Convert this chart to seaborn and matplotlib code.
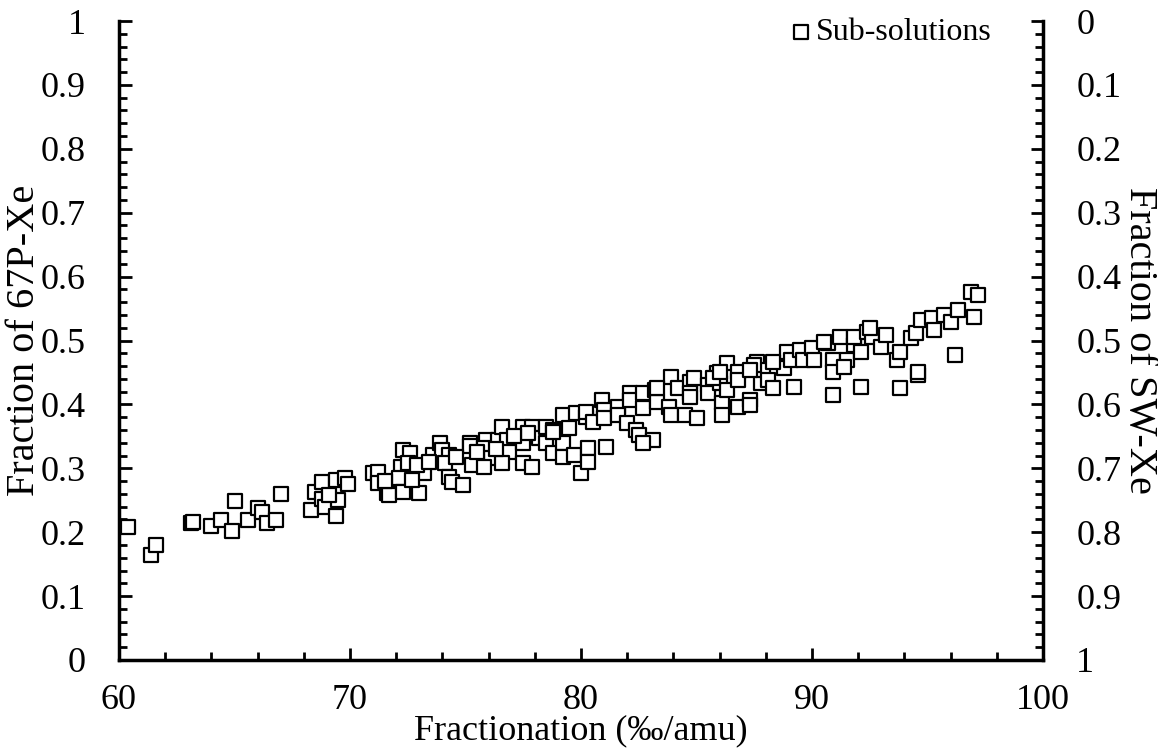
import numpy as np
import pandas as pd
import seaborn as sns
import matplotlib.pyplot as plt
from matplotlib.ticker import MultipleLocator, FuncFormatter

# Fractionation (permil/amu) of each sub-solution and its 67P-Xe fraction
fractionation = [
    60.4, 61.4, 61.6, 63.1, 63.2, 64.0, 64.4, 65.0, 64.9, 65.6, 66.0, 66.2, 66.4,
    66.8, 67.0, 68.3, 68.5, 68.8, 68.8, 68.9, 69.4, 69.8, 69.9, 69.5, 69.4, 69.1,
    71.0, 71.2, 71.2, 71.6, 71.7, 72.3, 72.6, 72.2, 72.5, 72.1, 72.3, 73.0, 73.2,
    72.7, 73.6, 73.9, 74.0, 74.3, 74.1, 74.3, 74.4, 74.9, 75.2, 75.2, 75.3, 75.9,
    75.8, 76.1, 75.8, 76.4, 76.6, 76.8, 76.9, 76.6, 77.5, 77.5, 77.5, 77.9, 77.9,
    78.2, 78.5, 78.8, 78.5, 78.8, 79.2, 79.2, 79.2, 79.5, 79.7, 79.8, 80.0, 80.2,
    80.3, 80.3, 77.7, 78.8, 71.5, 72.9, 73.4, 74.6, 75.5, 76.3, 77.1,
    80.2, 80.5, 80.9, 81.0, 81.0, 81.1, 81.6, 81.6, 82.0, 82.1, 82.1, 82.4, 82.5,
    82.7, 82.7, 83.1, 83.2, 83.3, 83.8, 83.9, 83.9, 84.2, 84.5, 84.7, 84.9, 84.7,
    85.0, 85.5, 85.5, 85.9, 86.0, 86.1, 86.1, 86.3, 86.3, 86.8, 86.8, 86.8, 87.3,
    87.3, 87.6, 87.8, 87.9, 88.1, 88.3, 88.8, 88.9, 89.2, 89.1, 89.5, 89.6, 90.0,
    90.1, 88.3, 87.5, 85.7, 84.7, 83.3, 82.7, 86.0, 87.3,
    90.9, 90.9, 90.9, 90.7, 91.2, 91.5, 91.4, 91.8, 91.8, 92.1, 92.1, 92.4, 92.6,
    93.0, 93.2, 93.7, 93.8, 93.8, 94.3, 94.5, 94.6, 94.6, 94.7, 95.2, 95.3, 95.7,
    96.0, 96.2, 96.3, 96.9, 97.2, 97.0, 90.5, 92.5,
]
fraction_67p = [
    0.208, 0.164, 0.180, 0.214, 0.216, 0.210, 0.219, 0.249, 0.202, 0.219, 0.238, 0.232, 0.214,
    0.219, 0.260, 0.235, 0.263, 0.279, 0.252, 0.240, 0.282, 0.285, 0.276, 0.250, 0.225, 0.258,
    0.293, 0.294, 0.277, 0.261, 0.258, 0.329, 0.324, 0.302, 0.308, 0.285, 0.263, 0.261, 0.293,
    0.282, 0.321, 0.340, 0.329, 0.321, 0.308, 0.286, 0.279, 0.274, 0.340, 0.335, 0.305, 0.344,
    0.332, 0.316, 0.302, 0.344, 0.365, 0.344, 0.326, 0.308, 0.365, 0.340, 0.308, 0.365, 0.302,
    0.347, 0.340, 0.324, 0.365, 0.360, 0.383, 0.340, 0.318, 0.363, 0.321, 0.386, 0.293, 0.380,
    0.332, 0.310, 0.355, 0.357, 0.280, 0.305, 0.310, 0.318, 0.325, 0.330, 0.350,
    0.388, 0.372, 0.407, 0.391, 0.379, 0.333, 0.396, 0.383, 0.371, 0.418, 0.407, 0.360, 0.352,
    0.418, 0.394, 0.344, 0.423, 0.404, 0.396, 0.443, 0.383, 0.426, 0.383, 0.435, 0.441, 0.418,
    0.379, 0.430, 0.418, 0.449, 0.433, 0.402, 0.383, 0.465, 0.423, 0.451, 0.396, 0.438, 0.407,
    0.399, 0.466, 0.433, 0.454, 0.438, 0.426, 0.457, 0.482, 0.427, 0.469, 0.485, 0.469, 0.488,
    0.469, 0.466, 0.462, 0.441, 0.412, 0.426, 0.339, 0.451, 0.454,
    0.469, 0.451, 0.415, 0.496, 0.506, 0.469, 0.459, 0.493, 0.506, 0.482, 0.427, 0.513, 0.506,
    0.490, 0.509, 0.469, 0.482, 0.426, 0.504, 0.512, 0.446, 0.451, 0.532, 0.535, 0.516, 0.540,
    0.529, 0.477, 0.548, 0.576, 0.571, 0.537, 0.498, 0.520,
]

x_ticks = [60, 70, 80, 90, 100]
y_ticks = [0, 0.1, 0.2, 0.3, 0.4, 0.5, 0.6, 0.7, 0.8, 0.9, 1]

sns.set_theme(style="ticks")
plt.rcParams["font.family"] = ["Liberation Serif", "DejaVu Serif"]

fig = plt.figure(figsize=(11.58, 7.55), dpi=100)
ax = fig.add_axes([119 / 1158, 1 - 660 / 755, (1043 - 119) / 1158, (660 - 21) / 755])

df = pd.DataFrame({"fractionation": fractionation, "f67p": fraction_67p})
sns.scatterplot(
    data=df, x="fractionation", y="f67p", marker="s", s=100,
    color="white", edgecolor="black", linewidth=1.6,
    label="Sub-solutions", ax=ax, zorder=3,
)

fmt = FuncFormatter(lambda v, _: f"{v:g}")

ax.set_xlim(60, 100)
ax.set_ylim(0, 1)
ax.set_xticks(x_ticks)
ax.set_yticks(y_ticks)
ax.xaxis.set_minor_locator(MultipleLocator(2))
ax.yaxis.set_minor_locator(MultipleLocator(0.02))
ax.xaxis.set_major_formatter(fmt)
ax.yaxis.set_major_formatter(fmt)

ax.spines["top"].set_visible(False)
ax.spines["right"].set_visible(False)
for side in ("left", "bottom"):
    ax.spines[side].set_linewidth(2.5)
    ax.spines[side].set_color("black")

ax.tick_params(axis="both", which="major", direction="in", length=9, width=2,
               labelsize=26, color="black", labelcolor="black")
ax.tick_params(axis="both", which="minor", direction="in", length=6, width=2,
               color="black")
ax.tick_params(axis="y", which="major", pad=24)
ax.tick_params(axis="x", which="major", pad=17)

ax.set_xlabel("Fractionation (‰/amu)", fontsize=26, labelpad=-2, color="black")
ax.set_ylabel("Fraction of 67P-Xe", fontsize=29, labelpad=-2, color="black")

# Secondary axis: SW-Xe fraction is the complement, so it runs top-down
ax2 = ax.twinx()
ax2.set_ylim(1, 0)
ax2.set_yticks(y_ticks)
ax2.yaxis.set_minor_locator(MultipleLocator(0.02))
ax2.yaxis.set_major_formatter(fmt)
for side in ("top", "left", "bottom"):
    ax2.spines[side].set_visible(False)
ax2.spines["right"].set_linewidth(2.5)
ax2.spines["right"].set_color("black")
ax2.tick_params(axis="y", which="major", direction="in", length=9, width=2,
                labelsize=26, pad=24, color="black", labelcolor="black")
ax2.tick_params(axis="y", which="minor", direction="in", length=6, width=2,
                color="black")
ax2.set_ylabel("Fraction of SW-Xe", fontsize=29, rotation=270, labelpad=26,
               color="black")

leg = ax.legend(loc="upper right", bbox_to_anchor=(0.965, 1.035), frameon=False,
                fontsize=23, handletextpad=0.15, handlelength=0.6,
                borderaxespad=0.2, markerscale=1.0)
for t in leg.get_texts():
    t.set_color("black")

ax.grid(False)
ax2.grid(False)
fig.savefig("out.png", dpi=100, facecolor="white")
